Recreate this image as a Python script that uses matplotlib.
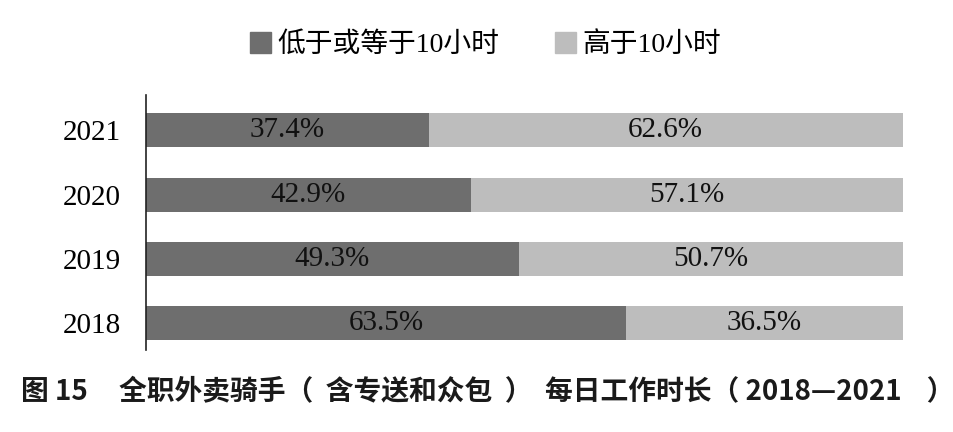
import matplotlib.pyplot as plt
import numpy as np
from matplotlib.patches import Patch

plt.rcParams['font.family'] = ['Liberation Serif', 'Noto Sans CJK SC']

years = ['2018', '2019', '2020', '2021']
le10 = [63.5, 49.3, 42.9, 37.4]
gt10 = [36.5, 50.7, 57.1, 62.6]
legend_labels = ['低于或等于10小时', '高于10小时']
caption = '图 15     全职外卖骑手（  含专送和众包  ）  每日工作时长（ 2018—2021    ）'

c_dark = '#6e6e6e'
c_light = '#bdbdbd'

fig = plt.figure(figsize=(9.54, 4.32), dpi=100)
ax = fig.add_axes([0.153, 0.19, 0.797, 0.59])

y = np.arange(len(years))
ax.barh(y, le10, height=0.53, color=c_dark)
ax.barh(y, gt10, left=le10, height=0.53, color=c_light)

for i in range(len(years)):
    ax.text(le10[i] / 2, y[i], f'{le10[i]:.1f}%', ha='center', va='center',
            fontsize=21, color='#111111')
    ax.text(le10[i] + gt10[i] / 2, y[i], f'{gt10[i]:.1f}%', ha='center', va='center',
            fontsize=21, color='#111111')

ax.set_xlim(0, 100.5)
ax.set_ylim(-0.42, 3.55)
ax.set_yticks(y)
ax.set_yticklabels(years, fontsize=21)
ax.tick_params(axis='y', length=0, pad=18)
ax.set_xticks([])
for s in ['top', 'right', 'bottom']:
    ax.spines[s].set_visible(False)
ax.spines['left'].set_color('#222222')
ax.spines['left'].set_linewidth(1.2)

handles = [Patch(color=c_dark), Patch(color=c_light)]
fig.legend(handles, legend_labels, loc='center', bbox_to_anchor=(0.509, 0.895), ncol=2,
           frameon=False, handlelength=0.75, handleheight=0.75,
           handletextpad=0.25, columnspacing=2.0,
           prop={'family': ['Liberation Serif', 'Noto Sans CJK SC'], 'size': 20})

fig.text(0.022, 0.092, caption, ha='left', va='center', fontsize=20,
         fontweight='bold', family=['Noto Sans CJK SC'], color='#1a1a1a')

fig.savefig('out.png', dpi=100)
